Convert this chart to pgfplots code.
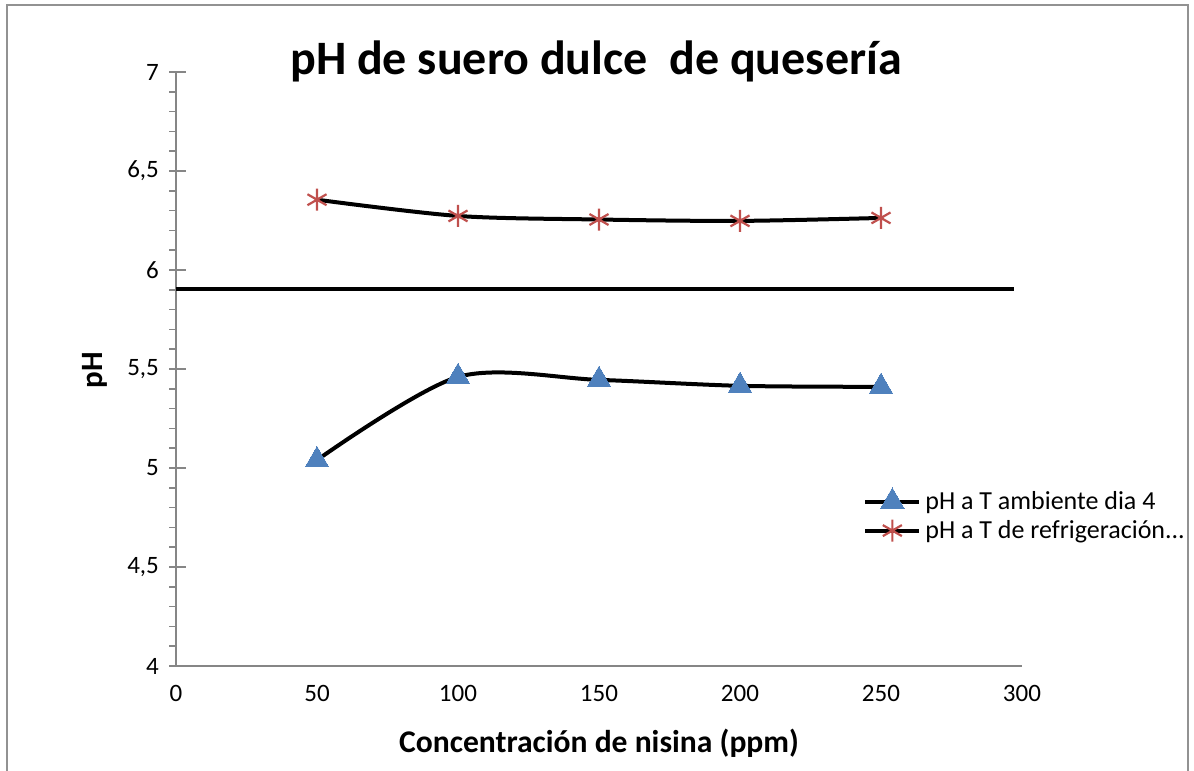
\documentclass[border=0pt]{standalone}
\usepackage{pgfplots}
\pgfplotsset{compat=1.18}
\usepackage{fontspec}
\setmainfont{Carlito}
\definecolor{exblue}{HTML}{4F81BD}
\definecolor{exred}{HTML}{C0504D}
\definecolor{axgray}{HTML}{868686}
\begin{document}
\begin{tikzpicture}
\begin{axis}[
  scale only axis,
  width=423pt, height=297pt,
  xmin=0, xmax=300, ymin=4, ymax=7,
  xtick={0,50,100,150,200,250,300},
  ytick={4,4.5,5,5.5,6,6.5,7},
  minor y tick num=4,
  extra y ticks={4,4.5,5,5.5,6,6.5,7},
  extra y tick labels={},
  extra y tick style={tick align=inside, major tick length=5pt, ytick style={axgray, line width=0.8pt}},
  axis x line*=bottom, axis y line*=left,
  axis line style={axgray, line width=0.8pt, -},
  tick style={axgray, line width=0.8pt},
  tick align=outside,
  major tick length=3.35pt, minor tick length=3.35pt,
  xtick style={draw=none},
  /pgf/number format/assume math mode=true,
  /pgf/number format/use comma,
  ticklabel style={font=\fontsize{12.5}{14}\selectfont},
  yticklabel style={anchor=east, inner sep=0pt, xshift=-5pt},
  xticklabel style={anchor=base, inner sep=0pt, yshift=-14.5pt},
  clip=false,
  legend style={at={(axis description cs:0.812,0.302)}, anchor=north west,
    draw=none, fill=none, font=\fontsize{13}{15}\selectfont,
    row sep=0pt, inner sep=0pt,
    nodes={inner sep=2pt}},
  legend cell align=left,
  legend image code/.code={\draw[mark repeat=2,mark phase=2] plot coordinates {(0pt,0pt) (13.5pt,0pt) (27pt,0pt)};},
]
\addplot[black, line width=2pt, forget plot] coordinates {(0,5.905) (297,5.905)};
\addplot[black, line width=2pt, smooth, mark=triangle*, mark size=6.8pt,
  mark options={fill=exblue, draw=exblue, line width=0pt}]
  coordinates {(50,5.04) (100,5.46) (150,5.445) (200,5.415) (250,5.41)};
\addlegendentry{pH a T ambiente dia 4}
\addplot[black, line width=2pt, smooth, mark=asterisk, mark size=5.5pt,
  mark options={draw=exred, line width=1.1pt}]
  coordinates {(50,6.355) (100,6.273) (150,6.255) (200,6.248) (250,6.263)};
\addlegendentry{pH a T de refrigeración...}
\end{axis}
\node[anchor=base, font=\fontsize{24}{28}\selectfont\bfseries] at (210pt,295.5pt) {pH de suero dulce\ \ de quesería};
\node[anchor=base, font=\fontsize{15.8}{18}\selectfont\bfseries] at (211.5pt,-43pt) {Concentración de nisina (ppm)};
\node[rotate=90, font=\fontsize{15.5}{18}\selectfont\bfseries] at (-40.5pt,148pt) {pH};
\draw[axgray!90, line width=1pt] (-84.5pt,-60pt) -- (-84.5pt,330.5pt) -- (506pt,330.5pt) -- (506pt,-60pt);
\pgfresetboundingbox
\path[use as bounding box] (-88pt,-52.5pt) rectangle (509pt,333pt);
\end{tikzpicture}
\end{document}
